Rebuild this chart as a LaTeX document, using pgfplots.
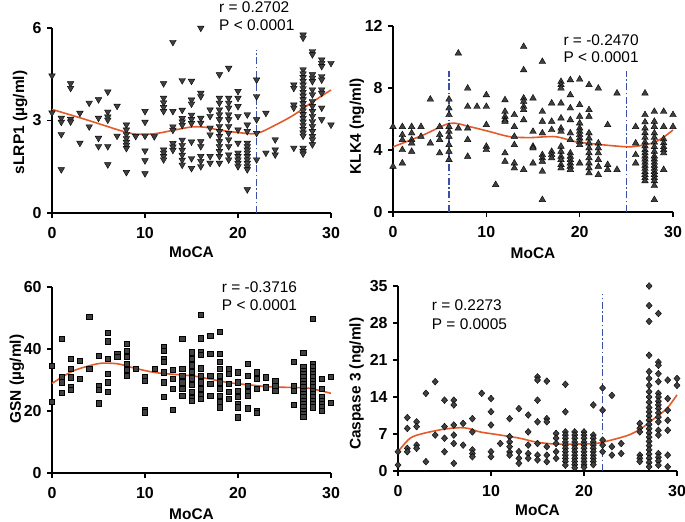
\documentclass[border=0pt]{standalone}
\usepackage{pgfplots}
\pgfplotsset{compat=1.18}
\usepackage{fontspec}
\setmainfont{Liberation Sans}

\definecolor{markgray}{HTML}{404040}
\definecolor{fitorange}{HTML}{E35B2A}
\definecolor{cutblue}{HTML}{3C4FA5}

\newcommand{\tickfont}{\bfseries\fontsize{16}{18}\selectfont}
\newcommand{\labfont}{\bfseries\fontsize{15.5}{18}\selectfont}
\newcommand{\annotfont}{\fontsize{15.5}{18}\selectfont}

\pgfplotsset{
  every x tick label/.append style={font=\tickfont, yshift=-6bp},
  every y tick label/.append style={font=\tickfont, xshift=-2bp},
  panel/.style={
    scale only axis,
    xmin=0, xmax=30, ymin=0,
    axis lines*=left,
    axis line style={line width=1.4bp, black},
    tick align=outside,
    major tick length=5bp,
    tick style={line width=1.2bp, black},
    xtick={0,10,20,30},
    /pgf/number format/assume math mode=true,
    clip=false,
  },
  fit/.style={smooth, no marks, line width=1.6bp, fitorange},
  cut/.style={no marks, line width=1.5bp, cutblue, dash pattern=on 7bp off 2.5bp on 1.5bp off 2.5bp},
}
\tikzset{
  annot/.style={anchor=west, inner sep=0pt, font=\annotfont},
  xlab/.style={anchor=base, inner sep=0pt, font=\labfont},
  ylab/.style={anchor=base, inner sep=0pt, rotate=90, font=\labfont},
}

\begin{document}
\begin{tikzpicture}
\useasboundingbox (0,0) rectangle (685bp,522bp);

% ---- sLRP1
\begin{axis}[panel, at={(52bp,309bp)}, anchor=south west,
  width=279bp, height=185bp, ymax=6, ytick={0,3,6}]
\addplot[only marks, mark=triangle*, mark size=3.8bp,
  mark options={fill=markgray, draw=none, rotate=180}] coordinates {
(0,4.45)(0,3.25)
(1,3.08)(1,2.95)(1,2.55)(1,1.41)
(2,4.2)(2,4.05)(2,3.05)(2,2.96)
(3,3.24)(3,2.27)
(4,3.57)(4,2.8)
(5,3.68)(5,3.08)(5,2.43)(5,2.16)
(6,3.93)(6,3.28)(6,3.12)(6,3.02)(6,2.16)(6,1.57)
(7,3.47)(7,2.5)
(8,2.86)(8,2.7)(8,2.55)(8,2.42)(8,2.3)(8,2.2)(8,2.1)(8,1.32)
(9,2.49)
(10,3.3)(10,2.95)(10,2.5)(10,2.02)(10,1.7)(10,1.28)
(11,2.48)
(12,4.2)(12,3.73)(12,3.58)(12,3.43)(12,3.3)(12,2.05)(12,1.95)(12,1.84)(12,1.73)
(13,5.54)(13,3.3)(13,2.8)(13,2.69)(13,2.26)(13,2.15)(13,2.04)
(14,4.3)(14,3.34)(14,3.07)(14,2.96)(14,2.85)(14,2.37)(14,2.2)(14,2.04)(14,1.88)(14,1.72)(14,1.56)
(15,4.28)(15,3.67)(15,3.54)(15,3.18)(15,3.04)(15,2.91)(15,2.31)(15,1.77)(15,1.45)
(16,6.0)(16,3.89)(16,3.78)(16,3.08)(16,2.92)(16,2.32)(16,2.16)(16,1.84)(16,1.68)(16,1.51)
(17,3.35)(17,3.14)(17,2.76)(17,2.54)(17,1.84)(17,1.62)
(18,4.49)(18,3.73)(18,3.57)(18,3.35)(18,3.19)(18,3.03)(18,2.81)(18,2.65)(18,2.49)(18,2.32)(18,2.16)(18,2.0)(18,1.84)(18,1.62)
(19,4.7)(19,3.73)(19,3.57)(19,3.41)(19,3.19)(19,3.03)(19,2.81)(19,2.59)(19,2.38)(19,2.16)(19,1.89)(19,1.73)
(20,3.95)(20,3.73)(20,3.46)(20,3.14)(20,2.7)(20,2.27)(20,1.95)(20,1.84)(20,1.73)(20,1.62)(20,1.51)
(21,3.19)(21,2.86)(21,2.65)(21,2.27)(21,2.16)(21,2.05)(21,1.95)(21,1.84)(21,1.73)(21,1.62)(21,1.51)(21,1.41)(21,0.76)
(22,4.32)(22,3.78)(22,3.03)(22,2.59)(22,1.73)
(23,3.24)(23,1.95)
(24,2.38)(24,2.05)(24,1.89)
(26,4.16)(26,4.05)(26,3.51)(26,3.41)(26,2.11)
(27,5.78)(27,5.68)(27,4.65)(27,4.52)(27,4.4)(27,4.28)(27,4.16)(27,4.04)(27,3.92)(27,3.8)(27,3.68)(27,3.56)(27,3.44)(27,3.32)(27,3.2)(27,3.08)(27,2.96)(27,2.84)(27,2.72)(27,2.6)(27,2.5)(27,2.11)(27,2.0)(27,1.92)
(28,5.24)(28,5.14)(28,4.49)(28,4.38)(28,4.27)(28,4.0)(28,3.84)(28,3.62)(28,3.46)(28,3.3)(28,3.14)(28,2.97)(28,2.81)(28,2.65)(28,2.49)(28,2.38)(28,2.22)
(29,4.97)(29,4.86)(29,4.76)(29,4.43)(29,4.32)(29,4.0)(29,3.89)(29,3.41)(29,3.03)
(30,4.86)(30,2.86)
};
\addplot[fit] coordinates {(0,3.36)(3,3.09)(5,2.9)(7.5,2.66)(9,2.56)(11,2.57)(13,2.68)(15,2.79)(16.5,2.78)(18,2.69)(20,2.61)(22,2.58)(24,2.85)(26,3.18)(28,3.6)(30,3.99)};
\addplot[cut] coordinates {(22,0)(22,5.3)};
\node[annot] at (axis cs:17.96,6.67) {r = 0.2702};
\node[annot] at (axis cs:17.96,6.1) {P < 0.0001};
\end{axis}

% ---- KLK4
\begin{axis}[panel, at={(393bp,310bp)}, anchor=south west,
  width=280bp, height=186bp, ymax=12, ytick={0,4,8,12}]
\addplot[only marks, mark=triangle*, mark size=3.8bp,
  mark options={fill=markgray, draw=none}] coordinates {
(0,5.5)(0,2.94)
(1,5.5)(1,4.98)(1,4.66)(1,4.01)(1,3.15)
(2,5.5)(2,5.09)(2,4.66)(2,4.44)(2,3.9)
(3,5.5)(3,4.87)
(4,7.27)(4,4.44)
(5,5.5)(5,4.98)(5,4.66)(5,3.8)
(6,7.27)(6,6.7)(6,6.27)(6,5.5)(6,5.19)(6,4.87)(6,4.33)(6,3.9)(6,3.37)
(7,10.24)(7,5.4)
(8,7.98)(8,6.8)(8,5.4)(8,4.66)(8,3.58)
(9,6.8)
(10,7.55)(10,6.8)(10,5.62)(10,4.23)(10,4.01)
(11,1.76)
(12,7.23)(12,6.48)(12,6.16)(12,5.94)(12,5.84)(12,3.8)(12,3.26)
(13,6.27)(13,5.5)(13,4.87)(13,4.33)(13,3.15)(13,2.83)
(14,10.67)(14,9.16)(14,7.34)(14,7.12)(14,6.8)(14,6.59)(14,5.94)(14,2.73)
(15,7.34)(15,5.19)(15,4.23)(15,4.12)(15,3.15)
(16,9.7)(16,6.48)(16,5.84)(16,5.09)(16,3.69)(16,3.48)(16,3.26)(16,2.62)(16,0.79)
(17,7.02)(17,5.84)(17,5.3)(17,3.9)(17,3.69)(17,3.48)
(18,8.41)(18,8.2)(18,7.98)(18,7.02)(18,6.05)(18,5.4)(18,5.19)(18,4.23)(18,3.9)(18,3.58)(18,3.37)(18,3.05)(18,2.83)
(19,8.52)(19,7.55)(19,6.7)(19,5.94)(19,5.09)(19,4.66)(19,3.8)(19,3.58)(19,3.37)(19,3.15)(19,2.94)(19,2.73)
(20,8.56)(20,6.91)(20,6.16)(20,5.73)(20,5.4)(20,5.19)(20,4.98)(20,4.76)(20,4.55)(20,4.33)(20,3.15)
(21,8.2)(21,6.59)(21,6.16)(21,5.09)(21,4.76)(21,4.44)(21,4.12)(21,3.8)(21,3.48)(21,3.15)(21,2.83)(21,2.51)
(22,7.98)(22,4.44)(22,4.12)(22,3.8)(22,3.37)(22,2.94)(22,2.4)
(23,5.62)(23,3.05)(23,2.73)
(24,7.66)(24,2.73)
(26,5.5)(26,4.44)(26,3.69)(26,3.15)
(27,7.66)(27,6.27)(27,5.8)(27,5.4)(27,5.1)(27,4.8)(27,4.5)(27,4.25)(27,4.0)(27,3.8)(27,3.6)(27,3.4)(27,3.2)(27,3.0)(27,2.8)(27,2.6)(27,2.4)(27,2.2)(27,2.0)
(28,6.48)(28,5.84)(28,5.5)(28,5.09)(28,4.8)(28,4.5)(28,4.2)(28,3.9)(28,3.6)(28,3.4)(28,3.2)(28,3.0)(28,2.8)(28,2.6)(28,2.4)(28,2.2)(28,2.0)(28,1.7)(28,0.79)
(29,6.48)(29,5.5)(29,4.7)(29,4.45)(29,4.2)(29,4.0)(29,3.8)(29,2.73)
(30,6.27)(30,5.5)
};
\addplot[fit] coordinates {(0,4.2)(3.25,4.97)(6.1,5.72)(8.25,5.5)(10.4,5.18)(12.5,4.86)(14.7,4.8)(17.4,4.86)(19.5,4.54)(21.6,4.39)(23.8,4.26)(25.6,4.21)(27.7,4.43)(28.8,4.75)(30,5.29)};
\addplot[cut] coordinates {(6,0)(6,9.1)};
\addplot[cut] coordinates {(25,0)(25,9.1)};
\node[annot] at (axis cs:18.25,11.1) {r = -0.2470};
\node[annot] at (axis cs:18.25,10.02) {P < 0.0001};
\end{axis}

% ---- GSN
\begin{axis}[panel, at={(52bp,49bp)}, anchor=south west,
  width=279bp, height=186bp, ymax=60, ytick={0,20,40,60}]
\addplot[only marks, mark=square*, mark size=2.6bp,
  mark options={fill=markgray, draw=none}] coordinates {
(0,34.5)(0,23)
(1,43.3)(1,30.9)(1,29.3)(1,25.9)
(2,36.9)(2,33.6)(2,30.9)(2,27.7)(2,26.8)
(3,36.3)(3,30.4)
(4,50.3)(4,33.6)
(5,37.9)(5,28.0)(5,27.0)(5,22.5)
(6,45.2)(6,42.5)(6,36.9)(6,32.0)(6,29.3)(6,26.3)
(7,38.5)(7,37.4)
(8,41.7)(8,39.5)(8,37.4)(8,35.3)(8,33.2)(8,31.5)
(9,33.6)
(10,30.9)(10,29.9)(10,20.5)(10,19.6)
(11,33.6)
(12,40.6)(12,39.5)(12,36.9)(12,35.8)(12,32.5)(12,29.3)(12,24.5)
(13,33.4)(13,30.4)(13,27.2)(13,20.4)
(14,43.3)(14,33.6)(14,31.4)(14,29.3)(14,27.2)(14,25.0)
(15,39.0)(15,36.9)(15,34.8)(15,32.7)(15,30.6)(15,28.4)(15,26.3)(15,24.1)(15,23.4)
(16,51.1)(16,43.5)(16,39.2)(16,38.1)(16,33.8)(16,31.5)(16,29.3)(16,27.2)(16,25.1)(16,23.9)
(17,44.2)(17,38.5)(17,31.5)(17,28.8)(17,25.0)
(18,45.5)(18,38.5)(18,35.8)(18,33.6)(18,31.4)(18,29.3)(18,27.2)(18,25.0)(18,22.9)(18,21.2)
(19,33.6)(19,32.0)(19,28.8)(19,26.1)(19,23.9)
(20,32.5)(20,29.3)(20,26.6)(20,24.5)(20,22.4)(20,21.2)(20,18.0)
(21,35.2)(21,31.5)(21,28.2)(21,26.1)(21,25.0)(21,20.9)
(22,32.5)(22,30.4)(22,27.2)(22,20.2)(22,19.4)
(23,30.9)(23,27.7)
(24,29.9)(24,28.2)(24,26.6)
(26,36.0)(26,28.2)(26,26.6)(26,22.0)
(27,38.8)(27,34.2)(27,33.1)(27,32.0)(27,30.9)(27,29.9)(27,28.8)(27,27.7)(27,26.6)(27,25.6)(27,24.5)(27,23.4)(27,22.3)(27,21.3)(27,20.2)(27,19.0)(27,18.2)
(28,49.8)(28,35.2)(28,34.1)(28,33.1)(28,32.0)(28,30.9)(28,29.8)(28,28.8)(28,27.7)(28,26.6)(28,25.5)(28,24.5)(28,23.4)(28,22.4)(28,21.2)
(29,30.4)(29,27.2)(29,24.5)(29,23.4)(29,22.4)(29,21.3)(29,20.2)
(30,31.1)(30,22.8)
};
\addplot[fit] coordinates {(0,28.9)(2.1,32.7)(3.9,34.5)(5.3,35.4)(7.1,35.2)(8.9,33.8)(11.1,32.4)(13.2,31.8)(15.2,31.3)(17,30.3)(19.1,29.1)(21.3,28.4)(23.4,27.8)(25.6,27.6)(27.7,27.3)(30,25.7)};
\node[annot] at (axis cs:18.25,59.9) {r = -0.3716};
\node[annot] at (axis cs:18.25,54.1) {P < 0.0001};
\end{axis}

% ---- Caspase 3
\begin{axis}[panel, at={(398bp,51bp)}, anchor=south west,
  width=279bp, height=185bp, ymax=35, ytick={0,7,14,21,28,35}]
\addplot[only marks, mark=diamond*, mark size=3.4bp,
  mark options={fill=markgray, draw=none, xscale=1.2}] coordinates {
(0,3.65)(0,1.13)
(1,10.1)(1,8.06)(1,4.28)(1,3.65)
(2,9.3)(2,8.4)(2,4.9)(2,4.3)
(3,14.7)(3,1.76)
(4,16.9)(4,6.8)
(5,13.4)(5,8.4)(5,6.2)(5,3.65)
(6,13.4)(6,12.5)(6,8.7)(6,6.8)(6,5.2)(6,1.45)
(7,9.0)(7,4.9)
(8,9.9)(8,7.4)(8,4.0)(8,3.3)(8,2.7)
(9,14.7)
(10,13.7)(10,11.2)(10,8.7)(10,3.65)(10,2.7)
(11,5.2)
(12,9.9)(12,6.5)(12,5.5)(12,4.6)(12,3.6)(12,3.0)
(13,11.8)(13,3.65)(13,2.4)(13,1.45)
(14,10.6)(14,7.4)(14,4.9)(14,3.3)(14,2.4)
(15,17.8)(15,17.2)(15,13.4)(15,9.3)(15,5.2)(15,3.0)(15,2.1)
(16,17.0)(16,9.9)(16,9.3)(16,4.6)(16,3.0)(16,1.76)
(17,7.1)(17,6.2)(17,5.2)(17,3.65)(17,2.4)
(18,16.4)(18,11.2)(18,7.4)(18,6.8)(18,6.2)(18,5.5)(18,4.9)(18,4.3)(18,3.65)(18,3.0)(18,2.4)(18,1.8)(18,1.1)
(19,7.4)(19,6.8)(19,6.2)(19,5.5)(19,4.9)(19,4.3)(19,3.65)(19,3.0)(19,2.4)(19,1.8)(19,1.2)(19,0.6)
(20,7.4)(20,6.8)(20,6.2)(20,5.5)(20,4.9)(20,4.3)(20,3.65)(20,3.0)(20,2.4)(20,1.8)(20,1.2)(20,0.7)
(21,12.5)(21,6.8)(21,6.2)(21,5.5)(21,4.9)(21,4.3)(21,3.65)(21,3.0)(21,2.4)(21,1.8)(21,1.2)
(22,15.7)(22,11.5)(22,5.85)(22,4.9)(22,3.65)
(23,14.3)(23,4.6)(23,3.0)
(24,5.2)(24,3.3)
(26,9.0)(26,8.1)(26,7.4)(26,3.0)(26,2.4)(26,1.8)
(27,35.0)(27,31.3)(27,28.3)(27,21.9)(27,18.8)(27,17.5)(27,16.2)(27,15.0)(27,14.0)(27,13.0)(27,12.0)(27,11.2)(27,10.4)(27,9.6)(27,8.8)(27,8.0)(27,7.2)(27,6.4)(27,5.6)(27,4.8)(27,4.0)(27,3.2)(27,2.4)(27,1.6)(27,0.8)
(28,29.8)(28,20.6)(28,20.0)(28,18.4)(28,16.9)(28,14.7)(28,14.0)(28,13.2)(28,12.5)(28,11.8)(28,11.0)(28,10.2)(28,9.3)(28,7.7)(28,6.8)(28,3.3)(28,2.6)(28,1.9)(28,1.1)
(29,17.2)(29,13.7)(29,11.5)(29,9.6)(29,7.7)(29,3.0)(29,0.8)
(30,17.5)(30,16.2)
};
\addplot[fit] coordinates {(0,3.65)(1.3,6.2)(2.7,7.1)(4.9,7.9)(6.7,8.2)(7.7,8.0)(8.8,7.4)(11,6.8)(13.1,6.2)(14.9,5.45)(16.9,5.1)(19,5.1)(21.2,5.2)(22.6,5.7)(24.8,6.8)(26.2,8.1)(27.6,10.0)(28.9,11.8)(30,14.4)};
\addplot[cut] coordinates {(22,0)(22,33.4)};
\node[annot] at (axis cs:3.62,31.3) {r = 0.2273};
\node[annot] at (axis cs:3.62,27.8) {P = 0.0005};
\end{axis}

% axis titles, placed on the page
\node[xlab] at (191.5bp,264bp) {MoCA};
\node[ylab] at (24bp,399.6bp) {sLRP1 (µg/ml)};
\node[xlab] at (533bp,263.7bp) {MoCA};
\node[ylab] at (360.8bp,395.6bp) {KLK4 (ng/ml)};
\node[xlab] at (191.5bp,2.3bp) {MoCA};
\node[ylab] at (20.8bp,143bp) {GSN (µg/ml)};
\node[xlab] at (537.5bp,6.6bp) {MoCA};
\node[ylab] at (360.6bp,138.3bp) {Caspase 3 (ng/ml)};
\end{tikzpicture}
\end{document}
